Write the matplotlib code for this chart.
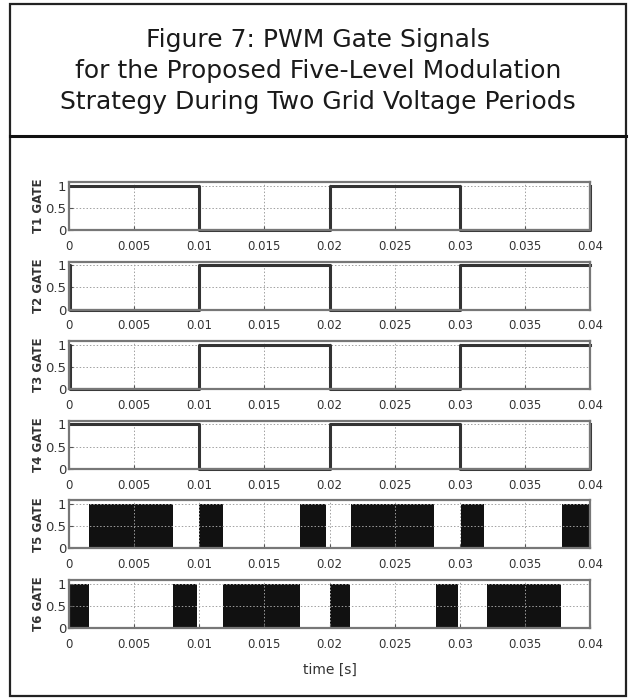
import matplotlib
matplotlib.use("Agg")
import matplotlib.pyplot as plt
from matplotlib.patches import Rectangle
import numpy as np

# switching instants of the unipolar legs (two grid periods, 50 Hz)
t_sq = [0.0, 0.0001, 0.01, 0.02, 0.03, 0.04]
T1 = [1, 1, 0, 1, 0, 1]
T2 = [1, 0, 1, 0, 1, 1]
T3 = [1, 0, 1, 0, 1, 1]
T4 = [1, 1, 0, 1, 0, 1]

# on-intervals of the PWM legs
T5_on = [(0.00154, 0.0080), (0.00998, 0.01182), (0.01773, 0.01973),
         (0.02165, 0.02802), (0.0301, 0.03186), (0.03785, 0.0400)]
T6_on = [(0.0, 0.00154), (0.00795, 0.0098), (0.01186, 0.0177),
         (0.0200, 0.0216), (0.02815, 0.0299), (0.0321, 0.0378)]

labels = ["T1 GATE", "T2 GATE", "T3 GATE", "T4 GATE", "T5 GATE", "T6 GATE"]
xticks = [0, 0.005, 0.01, 0.015, 0.02, 0.025, 0.03, 0.035, 0.04]
xticklabels = ["0", "0.005", "0.01", "0.015", "0.02", "0.025", "0.03", "0.035", "0.04"]

W, H = 629, 698
fig = plt.figure(figsize=(W / 100, H / 100), dpi=100)
fig.patch.set_facecolor("white")

# frame around the whole figure and the title box
frame = fig.add_axes([0, 0, 1, 1], zorder=-1)
frame.set_xlim(0, W)
frame.set_ylim(H, 0)
frame.axis("off")
frame.add_patch(Rectangle((10, 4), 616, 692, fill=False, lw=1.6, ec="#222222"))
frame.plot([10, 626], [136, 136], color="#111111", lw=2.2)

title = ["Figure 7: PWM Gate Signals",
         "for the Proposed Five-Level Modulation",
         "Strategy During Two Grid Voltage Periods"]
for k, line in enumerate(title):
    frame.text(318, 40 + 31 * k, line, ha="center", va="center",
               fontsize=18, family="DejaVu Sans", color="#1a1a1a")

tick_font = ["Liberation Sans Narrow", "DejaVu Sans"]
sig_color = "#333333"

def panel(i):
    top = 182 + 79.6 * i
    ax = fig.add_axes([69 / W, 1 - (top + 48) / H, 521 / W, 48 / H])
    ax.set_xlim(0, 0.04)
    ax.set_ylim(0, 1.08)
    ax.set_xticks(xticks)
    ax.set_xticklabels(xticklabels, family=tick_font, fontsize=8.5, color="#333333")
    ax.set_yticks([0, 0.5, 1])
    ax.set_yticklabels(["0", "0.5", "1"], family=tick_font, fontsize=9.5, color="#333333")
    ax.tick_params(direction="in", length=3, width=0.8, color="#555555")
    ax.tick_params(axis="x", pad=7)
    ax.tick_params(axis="y", pad=2)
    ax.grid(True, linestyle=(0, (1.5, 2)), color="#a0a0a0", lw=0.7)
    for s in ax.spines.values():
        s.set_color("#777777")
        s.set_linewidth(1.6)
    fig.text(39 / W, 1 - (top + 24) / H, labels[i], rotation=90, ha="center",
             va="center", fontsize=8.5, fontweight="bold", color="#333333")
    return ax

for i, sig in enumerate([T1, T2, T3, T4]):
    ax = panel(i)
    ax.step(t_sq, sig, where="post", color=sig_color, lw=2.2, clip_on=False)

for i, on in zip([4, 5], [T5_on, T6_on]):
    ax = panel(i)
    for a, b in on:
        ax.fill_between([a, b], 0, 1, color="#111111", lw=0)

ax.set_xlabel("time [s]", family=tick_font, fontsize=10, color="#333333", labelpad=9)

fig.savefig("out.png", dpi=100)
